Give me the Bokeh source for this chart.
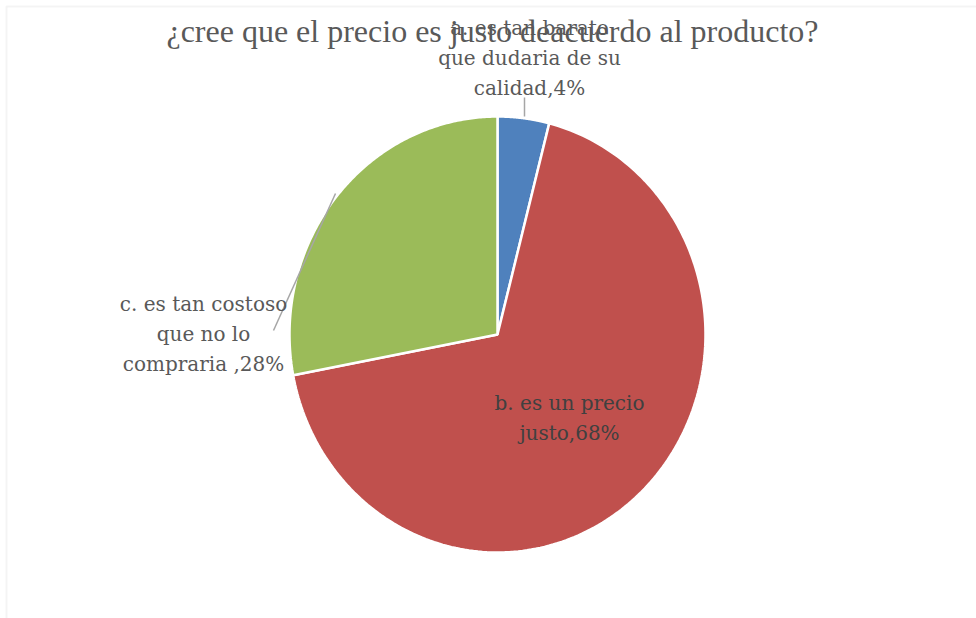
import numpy as np
from bokeh.plotting import figure
from bokeh.models import Range1d, BoxAnnotation
from bokeh.core.properties import value
from bokeh.embed import file_html
from bokeh.resources import INLINE

# ---- data ----
categories = ["a. es tan barato\nque dudaria de su\ncalidad", "b. es un precio\njusto", "c. es tan costoso\nque no lo\ncompraria "]
percent = [4, 68, 28]
colors = ["#4F81BD", "#C0504D", "#9BBB59"]
title_text = "¿cree que el precio es justo deacuerdo al producto?"

# ---- layout (pixel space) ----
W, H = 976, 618
cx, cy, rx, ry = 497, 334, 208, 218
label_xy = [(529, 57), (569, 417), (203, 333)]
label_colors = ["#595959", "#404040", "#595959"]
leaders = [((524, 97), (524, 116)), ((273, 330), (335, 193))]

p = figure(width=W, height=H, output_backend="svg", toolbar_location=None,
           x_range=Range1d(0, W), y_range=Range1d(H, 0),
           min_border=0, min_border_left=0, min_border_right=0, min_border_top=0, min_border_bottom=0)
p.axis.visible = False
p.grid.visible = False
p.outline_line_color = None
p.background_fill_color = "white"

# frame border (light grey, top & left visible)
p.add_layout(BoxAnnotation(left=6, right=W + 50, top=6, bottom=H + 50,
                           fill_color=None, line_color="#d9d9d9", line_width=2))

# pie slices (clockwise from 12 o'clock)
total = float(sum(percent))
cum = np.cumsum([0] + percent) / total
xs, ys = [], []
for i in range(len(percent)):
    t = np.linspace(cum[i], cum[i + 1], 200) * 2 * np.pi
    px = cx + rx * np.sin(t)
    py = cy - ry * np.cos(t)
    xs.append(np.concatenate([[cx], px]).tolist())
    ys.append(np.concatenate([[cy], py]).tolist())
p.patches(xs, ys, fill_color=colors, line_color="white", line_width=2.5)

# leader lines
for (x0, y0), (x1, y1) in leaders:
    p.segment(x0, y0, x1, y1, line_color="#a6a6a6", line_width=1.5)

# data labels
texts = [f"{c},{v}%" for c, v in zip(categories, percent)]
p.text(x=[xy[0] for xy in label_xy], y=[xy[1] for xy in label_xy], text=texts,
       text_align="center", text_baseline="middle",
       text_font=value("DejaVu Serif"), text_font_size="20px",
       text_color=label_colors, text_line_height=1.25)

# title
p.text(x=[492], y=[30], text=[title_text], text_align="center", text_baseline="middle",
       text_font=value("Liberation Serif"), text_font_size="32px", text_color="#595959")

open("out.html", "w").write(file_html(p, INLINE))
